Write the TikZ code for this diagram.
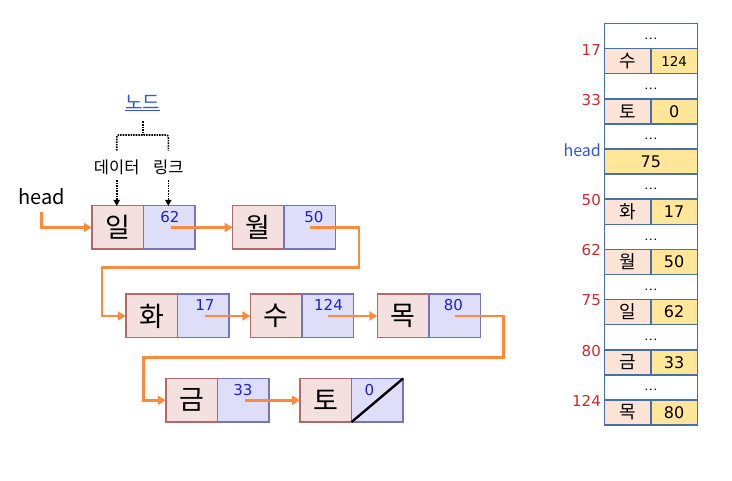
\documentclass[tikz,border=0pt]{standalone}
\usepackage{fontspec}
\setmainfont{Noto Sans CJK KR}
\newfontfamily\numfont{DejaVu Sans}
\usetikzlibrary{arrows.meta}
\definecolor{datafill}{HTML}{F5E0E0}
\definecolor{dataline}{HTML}{B06A6A}
\definecolor{linkfill}{HTML}{DEDEF8}
\definecolor{linkline}{HTML}{7676B6}
\definecolor{orangeln}{HTML}{FF8A3D}
\definecolor{numblue}{HTML}{2020D0}
\definecolor{lblblue}{HTML}{3355DD}
\definecolor{tblline}{HTML}{4A6FA5}
\definecolor{tblpeach}{HTML}{FBE4D5}
\definecolor{tblyellow}{HTML}{FFE699}
\definecolor{addrred}{HTML}{D02828}
\tikzset{
  datacell/.style={draw=dataline, fill=datafill, line width=1.5pt, minimum width=51.5pt, minimum height=43.5pt, inner sep=0pt, outer sep=0pt, font=\fontsize{27}{30}\selectfont},
  linkcell/.style={draw=linkline, fill=linkfill, line width=1.5pt, minimum width=51.5pt, minimum height=43.5pt, inner sep=0pt, outer sep=0pt},
  numtext/.style={text=numblue, font=\numfont\fontsize{15}{17}\selectfont, inner sep=0pt},
  ptr/.style={draw=orangeln, line width=2.6pt, -{Triangle[length=8pt,width=9pt]}},
  dotln/.style={line width=1.6pt, densely dotted},
  dotarr/.style={line width=1.6pt, densely dotted, -{Triangle[length=6pt,width=6pt]}},
  lbl/.style={font=\fontsize{16.5}{19}\selectfont, inner sep=0pt},
  dotcell/.style={draw=tblline, fill=white, line width=1.5pt, minimum width=93pt, minimum height=25.1pt, inner sep=0pt, outer sep=0pt},
  dottext/.style={font=\fontsize{12}{14}\selectfont, inner sep=0pt},
  tleft/.style={draw=tblline, fill=tblpeach, line width=1.5pt, minimum width=46.7pt, minimum height=25.1pt, inner sep=0pt, outer sep=0pt, font=\fontsize{18}{20}\selectfont},
  tright/.style={draw=tblline, fill=tblyellow, line width=1.5pt, minimum width=46.3pt, minimum height=25.1pt, inner sep=0pt, outer sep=0pt, font=\numfont\fontsize{16}{18}\selectfont},
  addr/.style={text=addrred, font=\numfont\fontsize{15}{17}\selectfont, inner sep=0pt, anchor=east},
}
\newcommand\llnode[6]{%
  \node[datacell] (#1d) at (#2,#3) {#4};
  \node[linkcell, anchor=west] (#1l) at (#1d.east) {};
  \node[numtext] (#1n) at ([xshift=#6pt,yshift=-11pt]#1l.north) {#5};
}
\begin{document}
\begin{tikzpicture}[x=1pt,y=-1pt]
\useasboundingbox (0,0) rectangle (732,481);
% list nodes
\llnode{a}{117.5}{227.5}{일}{62}{1}
\llnode{b}{258.3}{227.5}{월}{50}{4}
\llnode{c}{151.5}{316}{화}{17}{2}
\llnode{e}{276}{316}{수}{124}{1}
\llnode{f}{403}{316}{목}{80}{-1}
\llnode{g}{191.5}{400.3}{금}{33}{0}
\llnode{h}{325.8}{400.3}{토}{0}{-8}
\draw[line width=2.4pt] (hl.south west) -- (hl.north east);
% labels
\node[font=\fontsize{20}{24}\selectfont, inner sep=0pt] (headlbl) at (41.7,196.5) {head};
\node[font=\fontsize{19}{22}\selectfont, inner sep=0pt, text=lblblue] (nodelbl) at (142.7,103) {\underline{노드}};
\node[lbl] (datalbl) at (116.7,167) {데이터};
\node[lbl] (linklbl) at (168.3,167) {링크};
\coordinate (brtop) at (143,121.5);
\coordinate (brmid) at (143,135);
\draw[dotln] (brtop) -- (brmid);
\draw[dotln, rounded corners=2pt] (116.7,150.7) -- (116.7,135) -- (168.3,135) -- (168.3,150.7);
\draw[dotarr] (116.7,180) -- (116.7,206);
\draw[dotarr] (168.3,180) -- (168.3,206);
% pointers
\coordinate (hstart) at (41.7,212.5);
\draw[ptr] (hstart) |- (ad.west);
\draw[ptr] ([xshift=2pt]al.center) -- (bd.west);
\draw[ptr] (bl.center) -| (359,267.7) -| (102,316) -- (cd.west);
\draw[ptr] ([xshift=2pt]cl.center) -- (ed.west);
\draw[ptr] (el.center) -- (fd.west);
\draw[ptr] (fl.center) -| (503.3,357.7) -| (143.3,400.3) -- (gd.west);
\draw[ptr] ([xshift=2pt]gl.center) -- (hd.west);
% memory table
\foreach \i in {0,2,...,14} {
  \node[dotcell] (dots\i) at (650.8,{36.05+25.1*\i}) {};
  \node[dottext] (dotst\i) at ([yshift=-2.5pt]dots\i.center) {…};
}
\newcommand\trow[4]{%
  \node[tleft] (t#1a) at (627.65,{36.05+25.1*#1}) {#2};
  \node[tright] (t#1b) at (674.15,{36.05+25.1*#1}) {#3};
  \node[addr] (addr#1) at (601,{24.5+25.1*#1}) {#4};
}
\trow{1}{수}{\fontsize{13.5}{15}\selectfont 124}{17}
\trow{3}{토}{0}{33}
\node[tright, minimum width=93pt] (t5) at (650.8,{36.05+25.1*5}) {75};
\node[addr, text=lblblue, font=\fontsize{16}{19}\selectfont] (addr5) at (601,{24.5+25.1*5}) {head};
\trow{7}{화}{17}{50}
\trow{9}{월}{50}{62}
\trow{11}{일}{62}{75}
\trow{13}{금}{33}{80}
\trow{15}{목}{80}{124}
\end{tikzpicture}
\end{document}
